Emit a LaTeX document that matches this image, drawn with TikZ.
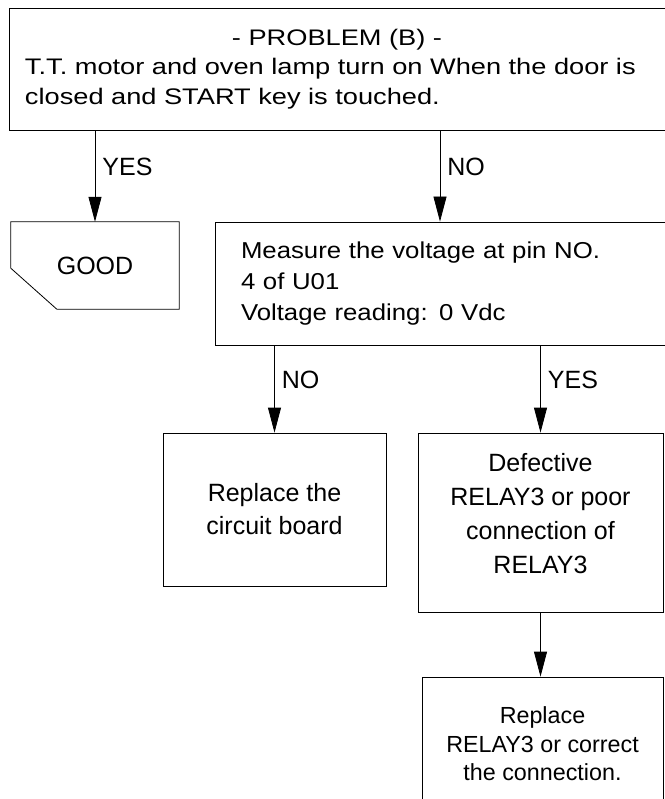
\documentclass[tikz,border=0pt]{standalone}
\usepackage{fontspec}
\setmainfont{Liberation Sans}
\newfontfamily\widefont[FakeStretch=1.21]{Liberation Sans}
\newfontfamily\semiwidefont[FakeStretch=1.12]{Liberation Sans}
\usetikzlibrary{arrows.meta, positioning}

\begin{document}
\begin{tikzpicture}[
    x=1pt, y=-1pt,
    font=\fontsize{25}{33}\selectfont,
    box/.style={draw, rectangle, line width=0.8pt, align=center, inner sep=0pt},
    arrow/.style={-{Triangle[length=25pt, width=13pt]}, line width=0.8pt},
    answer/.style={right, pos=0.4, inner sep=7pt}
]
\useasboundingbox (0,0) rectangle (664,799);

% Nodes
\node (problem) [box, minimum width=672pt, minimum height=122pt, text width=640pt, align=left,
    font=\widefont\fontsize{22.5}{29.5}\selectfont] at (345,69)
    {\makebox[640pt]{- PROBLEM (B) -\hspace{16pt}}\\T.T. motor and oven lamp turn on When the door is\\closed and START key is touched.};
\node (good) [minimum width=168pt, minimum height=87pt, inner sep=0pt] at (95,265.5) {GOOD};
\node (measure) [box, minimum width=450pt, minimum height=123pt, text width=398pt, align=left,
    font=\semiwidefont\fontsize{23}{31}\selectfont] at (440,283.5)
    {Measure the voltage at pin NO.\\4 of U01\\Voltage reading: 0 Vdc};
\node (board) [box, minimum width=223pt, minimum height=153pt] at (274.5,509.5) {Replace the\\circuit board};
\node (defective) [box, minimum width=245pt, minimum height=179pt, font=\fontsize{25}{34}\selectfont] at (540.5,522.5)
    {Defective\\RELAY3 or poor\\connection of\\RELAY3\rule[-18pt]{0pt}{18pt}};
\node (relay) [box, minimum width=241pt, minimum height=134pt, font=\fontsize{23.3}{28.5}\selectfont] at (542.5,744)
    {Replace\\RELAY3 or correct\\the connection.};

% GOOD terminal with cut corner
\draw [line width=0.8pt] (good.north west) -- (good.north east) -- (good.south east)
    -- ([xshift=46pt]good.south west) -- ([yshift=41pt]good.south west) -- cycle;

% Connections
\draw [arrow] (problem.south -| good) -- node[answer] {YES} (good.north);
\draw [arrow] (problem.south -| measure) -- node[answer] {NO} (measure);
\draw [arrow] (measure.south -| board) -- node[answer] {NO} (board);
\draw [arrow] (measure.south -| defective) -- node[answer] {YES} (defective);
\draw [arrow] (defective.south) -- (relay.north -| defective.south);

\end{tikzpicture}
\end{document}
